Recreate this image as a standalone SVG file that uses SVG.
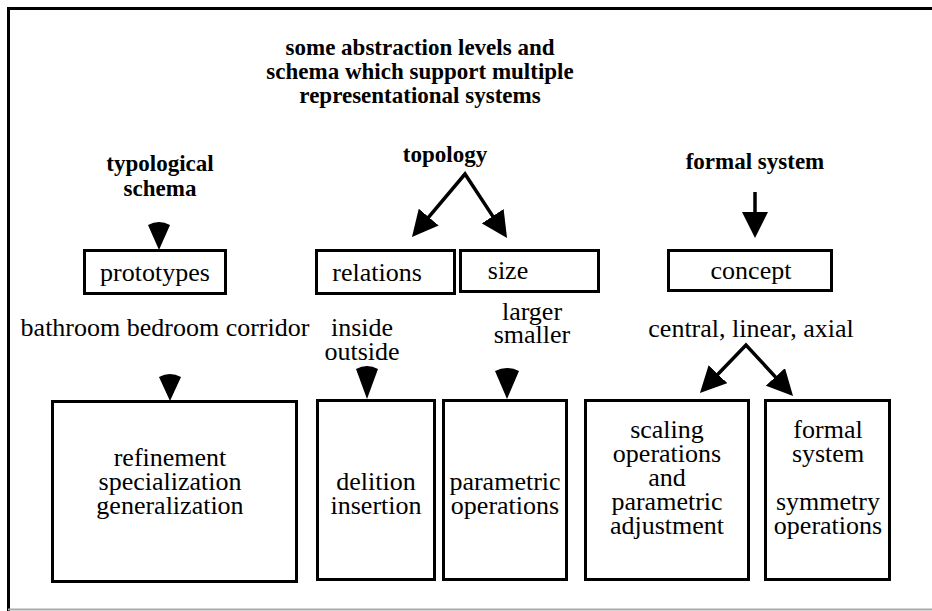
<svg xmlns="http://www.w3.org/2000/svg" width="932" height="611" viewBox="0 0 932 611">
<style>
  .t { font-family: "Liberation Serif", "Times New Roman", serif; font-size: 26px; fill: #000; text-anchor: middle; }
  .b { font-family: "Liberation Serif", "Times New Roman", serif; font-size: 23px; font-weight: bold; fill: #000; text-anchor: middle; }
  .box { fill: #fff; stroke: #000; stroke-width: 3; }
  .shaft { fill: none; stroke: #000; stroke-width: 3.5; }
  .fan { fill: #000; stroke: none; }
</style>
<defs>
  <marker id="head" markerUnits="userSpaceOnUse" markerWidth="26" markerHeight="26" refX="5" refY="13" orient="auto-start-reverse">
    <path d="M0,0 L26,13 L0,26 Z" fill="#000"/>
  </marker>
</defs>
<rect width="932" height="611" fill="#fff"/>
<g id="frame" fill="none">
  <path d="M932,8.5 L8.5,8.5 L8.5,611" stroke="#000" stroke-width="3"/>
  <line x1="8" y1="609.5" x2="932" y2="609.5" stroke="#aaa" stroke-width="2"/>
</g>
<g id="title">
  <text class="b" x="420" y="55">some abstraction levels and</text>
  <text class="b" x="420" y="79">schema which support multiple</text>
  <text class="b" x="420" y="103">representational systems</text>
</g>
<g id="typological">
  <text class="b" x="160" y="171">typological</text>
  <text class="b" x="160" y="196">schema</text>
</g>
<g id="topology">
  <text class="b" x="445" y="162">topology</text>
</g>
<g id="formal-system">
  <text class="b" x="755" y="169">formal system</text>
</g>
<g id="prototypes">
  <rect class="box" x="84.5" y="250.5" width="141" height="43"/>
  <text class="t" x="155" y="281">prototypes</text>
</g>
<g id="relations">
  <rect class="box" x="316.5" y="250.5" width="138" height="43"/>
  <text class="t" x="377" y="281">relations</text>
</g>
<g id="size">
  <rect class="box" x="460.5" y="250.5" width="138" height="41"/>
  <text class="t" x="508" y="279">size</text>
</g>
<g id="concept">
  <rect class="box" x="668.5" y="250.5" width="163" height="40"/>
  <text class="t" x="751" y="279">concept</text>
</g>
<g id="examples">
  <text class="t" x="165" y="336">bathroom bedroom corridor</text>
</g>
<g id="inside-outside">
  <text class="t" x="362" y="336">inside</text>
  <text class="t" x="362" y="360">outside</text>
</g>
<g id="larger-smaller">
  <text class="t" x="532" y="320">larger</text>
  <text class="t" x="532" y="343">smaller</text>
</g>
<g id="central-linear-axial">
  <text class="t" x="751" y="337">central, linear, axial</text>
</g>
<g id="refinement">
  <rect class="box" x="52.5" y="401.5" width="244" height="180"/>
  <text class="t" x="170" y="466">refinement</text>
  <text class="t" x="170" y="490">specialization</text>
  <text class="t" x="170" y="514">generalization</text>
</g>
<g id="delition">
  <rect class="box" x="317.5" y="400.5" width="117" height="179"/>
  <text class="t" x="376" y="490">delition</text>
  <text class="t" x="376" y="514">insertion</text>
</g>
<g id="parametric">
  <rect class="box" x="443.5" y="400.5" width="123" height="179"/>
  <text class="t" x="505" y="490">parametric</text>
  <text class="t" x="505" y="514">operations</text>
</g>
<g id="scaling">
  <rect class="box" x="585.5" y="400.5" width="163" height="179"/>
  <text class="t" x="667" y="438">scaling</text>
  <text class="t" x="667" y="462">operations</text>
  <text class="t" x="667" y="486">and</text>
  <text class="t" x="667" y="510">parametric</text>
  <text class="t" x="667" y="534">adjustment</text>
</g>
<g id="symmetry">
  <rect class="box" x="765.5" y="400.5" width="124" height="179"/>
  <text class="t" x="828" y="438">formal</text>
  <text class="t" x="828" y="462">system</text>
  <text class="t" x="828" y="510">symmetry</text>
  <text class="t" x="828" y="534">operations</text>
</g>
<g id="connectors">
  <path class="fan" d="M148,225 Q159,219 170,225 L159,250 Z"/>
  <path class="shaft" d="M425.5,220.9 L465,174 L495.5,220.4" marker-start="url(#head)" marker-end="url(#head)"/>
  <line class="shaft" x1="755" y1="192" x2="755" y2="217" marker-end="url(#head)"/>
  <path class="fan" d="M159,377 Q170,371 181,377 L170,401 Z"/>
  <path class="fan" d="M356,369 Q367,363 378,369 L367,399 Z"/>
  <path class="fan" d="M495,371 Q507,365 519,371 L507,399 Z"/>
  <path class="shaft" d="M714.5,377.8 L746,345 L778.8,380.6" marker-start="url(#head)" marker-end="url(#head)"/>
</g>
</svg>
